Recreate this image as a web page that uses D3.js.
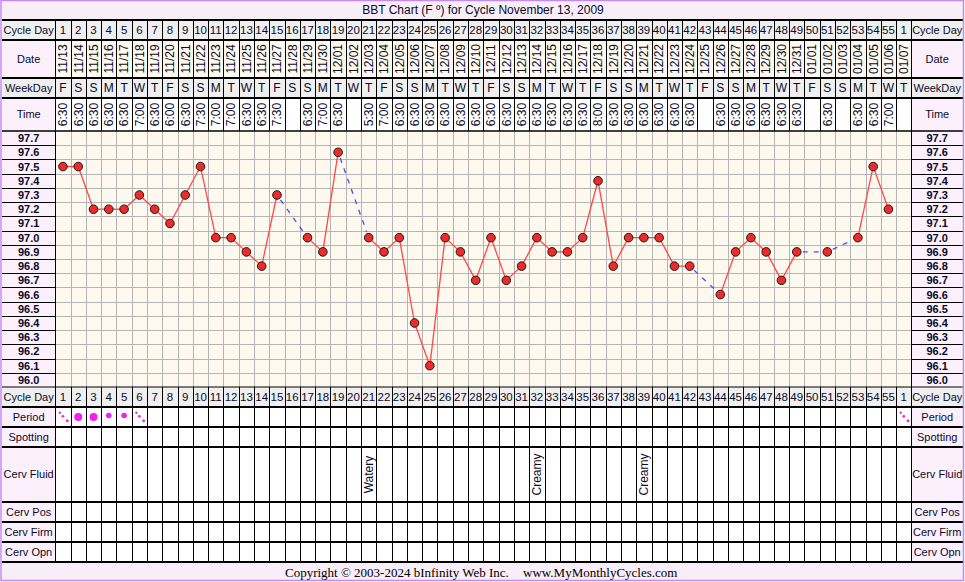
<!DOCTYPE html>
<html><head><meta charset="utf-8">
<script src="https://cdn.jsdelivr.net/npm/d3@7/dist/d3.min.js"></script>
<style>
body{margin:0;background:#fff}
svg{display:block}
text{font-family:Arial,"Liberation Sans",sans-serif;fill:#0a0a28}
</style>
</head><body>
<svg id="c" width="965" height="582"></svg>
<script>
// ---------- DATA ----------
const title = "BBT Chart (F \u00BA) for Cycle November 13, 2009";
const cycleDays = [1,2,3,4,5,6,7,8,9,10,11,12,13,14,15,16,17,18,19,20,21,22,23,24,25,26,27,28,29,30,31,32,33,34,35,36,37,38,39,40,41,42,43,44,45,46,47,48,49,50,51,52,53,54,55,1];
const dates = ["11/13","11/14","11/15","11/16","11/17","11/18","11/19","11/20","11/21","11/22","11/23","11/24","11/25","11/26","11/27","11/28","11/29","11/30","12/01","12/02","12/03","12/04","12/05","12/06","12/07","12/08","12/09","12/10","12/11","12/12","12/13","12/14","12/15","12/16","12/17","12/18","12/19","12/20","12/21","12/22","12/23","12/24","12/25","12/26","12/27","12/28","12/29","12/30","12/31","01/01","01/02","01/03","01/04","01/05","01/06","01/07"];
const weekdays = ["F","S","S","M","T","W","T","F","S","S","M","T","W","T","F","S","S","M","T","W","T","F","S","S","M","T","W","T","F","S","S","M","T","W","T","F","S","S","M","T","W","T","F","S","S","M","T","W","T","F","S","S","M","T","W","T"];
const times = ["6:30","6:30","6:30","6:30","6:30","7:00","6:30","6:00","6:30","7:30","7:00","7:00","6:30","6:30","7:30","","6:30","7:00","6:30","","5:30","7:00","6:30","6:30","6:30","6:30","6:30","6:30","6:30","6:30","6:30","6:30","6:30","6:30","6:30","8:00","6:30","6:30","6:30","6:30","6:30","6:30","","6:30","6:30","6:30","6:30","6:30","6:30","","6:30","","6:30","6:30","7:00",""];
const temps = [97.5,97.5,97.2,97.2,97.2,97.3,97.2,97.1,97.3,97.5,97.0,97.0,96.9,96.8,97.3,null,97.0,96.9,97.6,null,97.0,96.9,97.0,96.4,96.1,97.0,96.9,96.7,97.0,96.7,96.8,97.0,96.9,96.9,97.0,97.4,96.8,97.0,97.0,97.0,96.8,96.8,null,96.6,96.9,97.0,96.9,96.7,96.9,null,96.9,null,97.0,97.5,97.2,null];
const tempTicks = ["97.7","97.6","97.5","97.4","97.3","97.2","97.1","97.0","96.9","96.8","96.7","96.6","96.5","96.4","96.3","96.2","96.1","96.0"];
// period: H = heavy, M = medium, S = spotting dots
const period = ["S","H","H","M","M","S",null,null,null,null,null,null,null,null,null,null,null,null,null,null,null,null,null,null,null,null,null,null,null,null,null,null,null,null,null,null,null,null,null,null,null,null,null,null,null,null,null,null,null,null,null,null,null,null,null,"S"];
const cervFluid = {21:"Watery",32:"Creamy",39:"Creamy"};
const bottomLabels = ["Cycle Day","Period","Spotting","Cerv Fluid","Cerv Pos","Cerv Firm","Cerv Opn"];
const footerLeft = "Copyright \u00A9 2003-2024 bInfinity Web Inc.";
const footerRight = "www.MyMonthlyCycles.com";

// ---------- LAYOUT ----------
const svg = d3.select("#c");
const L0 = 2, L1 = 55.3, R0 = 911.4, R1 = 963;
const cols = d3.range(cycleDays.length);
const x = d3.scaleBand().domain(cols).range([L1, R0]).padding(0);
const bw = x.bandwidth();
const cx = i => x(i) + bw/2;

const rows = {
  title:[0,20], cd:[20,40], date:[40,78], wd:[78,98], time:[98,131],
  chart:[131,387], cd2:[387,407], period:[407,427], spot:[427,447],
  fluid:[447,502], pos:[502,522], firm:[522,542], opn:[542,562], foot:[562,581]
};
const yBand = d3.scaleBand().domain(tempTicks).range(rows.chart).padding(0);
const y = d3.scaleLinear().domain([97.75, 95.95]).range(rows.chart);

const PINK = "#fcf0fc", GRAY = "#efefef", CREAM = "#fdf9ee", PURPLE = "#c58af0";

function rect(x0,y0,w,h,fill){ svg.append("rect").attr("x",x0).attr("y",y0).attr("width",w).attr("height",h).attr("fill",fill); }
function hline(yv,x0,x1,color,w){ svg.append("line").attr("x1",x0).attr("x2",x1).attr("y1",yv).attr("y2",yv).attr("stroke",color).attr("stroke-width",w); }
function vline(xv,y0,y1,color,w){ svg.append("line").attr("x1",xv).attr("x2",xv).attr("y1",y0).attr("y2",y1).attr("stroke",color).attr("stroke-width",w); }

// backgrounds
rect(0,0,965,582,"#fff");
rect(L0,0,R1-L0,20,"#f8eef8");
rect(L0,rows.foot[0],R1-L0,rows.foot[1]-rows.foot[0],"#f8eef8");
const rowFill = {cd:GRAY,date:CREAM,wd:GRAY,time:"#fff",chart:CREAM,cd2:GRAY};
Object.entries(rowFill).forEach(([k,f])=>{
  rect(L1,rows[k][0],R0-L1,rows[k][1]-rows[k][0],f);
});
// label cells
["cd","date","wd","time","chart","cd2","period","spot","fluid","pos","firm","opn"].forEach(k=>{
  const f = (k==="cd"||k==="cd2"||k==="wd") ? GRAY : PINK;
  rect(L0,rows[k][0],L1-L0,rows[k][1]-rows[k][0],f);
  rect(R0,rows[k][0],R1-R0,rows[k][1]-rows[k][0],f);
});

// chart grid
const sx = v => Math.round(v)+0.5;
tempTicks.forEach((t,i)=>{
  if(i===0) return;
  const yy = sx(yBand(t));
  hline(yy,L1,R0,"#b5b5b5",1);
  hline(yy,L0,L1,"#000",1);
  hline(yy,R0,R1,"#000",1);
});
cols.forEach(i=>{ if(i>0) vline(sx(x(i)),rows.chart[0],rows.chart[1],"#b5b5b5",1); });

// header & bottom vertical lines
cols.forEach(i=>{
  if(i===0) return;
  vline(sx(x(i)),rows.cd[0],rows.time[1],"#000",1);
  vline(sx(x(i)),rows.cd2[0],rows.opn[1],"#000",1);
});
[L1,R0].forEach(v=>vline(sx(v),rows.cd[0],rows.opn[1],"#000",1));

// horizontal borders
[rows.cd[0],rows.cd[1],rows.date[1],rows.wd[1]].forEach(v=>hline(v,L0,R1,"#000",2));
hline(rows.chart[0],L0,R1,"#000",1.5);
hline(rows.cd2[0],L0,R1,"#000",1);
[rows.cd2[1],rows.period[1],rows.spot[1],rows.fluid[1],rows.pos[1],rows.firm[1],rows.opn[1]].forEach(v=>hline(v,L0,R1,"#000",2.2));

// outer purple frame
svg.append("rect").attr("x",1).attr("y",0.5).attr("width",962.5).attr("height",580).attr("fill","none").attr("stroke",PURPLE).attr("stroke-width",1.5);

// ---------- TEXT ----------
svg.append("text").attr("x",483).attr("y",14).attr("text-anchor","middle").style("font-size","12px").text(title);

function labelText(k, txt, side, opts={}){
  const xm = side==="L" ? (L0+L1)/2 : (R0+R1)/2;
  const ym = (rows[k][0]+rows[k][1])/2;
  svg.append("text").attr("x",xm).attr("y",ym).attr("dy","0.36em").attr("text-anchor","middle")
     .style("font-size",(opts.size||11)+"px").style("font-weight",opts.bold?"bold":"normal").text(txt);
}
[["cd","Cycle Day"],["date","Date"],["wd","WeekDay"],["time","Time"]].forEach(([k,t])=>{labelText(k,t,"L");labelText(k,t,"R");});
bottomLabels.forEach((t,i)=>{
  const k = ["cd2","period","spot","fluid","pos","firm","opn"][i];
  labelText(k,t,"L"); labelText(k,t,"R");
});
// temperature labels
tempTicks.forEach(t=>{
  [ (L0+L1)/2, (R0+R1)/2 ].forEach(xm=>{
    svg.append("text").attr("x",xm).attr("y",yBand(t)+yBand.bandwidth()/2).attr("dy","0.36em")
      .attr("text-anchor","middle").style("font-size","11px").style("font-weight","bold").text(t);
  });
});

// cycle days (top & bottom)
["cd","cd2"].forEach(k=>{
  svg.selectAll(null).data(cols).enter().append("text")
    .attr("x",i=>cx(i)).attr("y",(rows[k][0]+rows[k][1])/2).attr("dy","0.36em")
    .attr("text-anchor","middle").style("font-size","11.5px").text(i=>cycleDays[i]);
});
// weekdays
svg.selectAll(null).data(cols).enter().append("text")
  .attr("x",i=>cx(i)).attr("y",(rows.wd[0]+rows.wd[1])/2).attr("dy","0.36em")
  .attr("text-anchor","middle").style("font-size","12px").text(i=>weekdays[i]);
// dates rotated
svg.selectAll(null).data(cols).enter().append("text")
  .attr("transform",i=>`translate(${cx(i)},${(rows.date[0]+rows.date[1])/2}) rotate(-90)`)
  .attr("dy","0.36em").attr("text-anchor","middle").style("font-size","12px").text(i=>dates[i]);
// times rotated
svg.selectAll(null).data(cols.filter(i=>times[i])).enter().append("text")
  .attr("transform",i=>`translate(${cx(i)},${(rows.time[0]+rows.time[1])/2}) rotate(-90)`)
  .attr("dy","0.36em").attr("text-anchor","middle").style("font-size","12px").text(i=>times[i]);

// cervical fluid
Object.entries(cervFluid).forEach(([d,t])=>{
  const i = +d-1;
  svg.append("text").attr("transform",`translate(${cx(i)},${(rows.fluid[0]+rows.fluid[1])/2}) rotate(-90)`)
    .attr("dy","0.36em").attr("text-anchor","middle").style("font-size","12px").text(t);
});

// period markers
const pm = (rows.period[0]+rows.period[1])/2;
cols.forEach(i=>{
  const p = period[i];
  if(!p) return;
  if(p==="H") svg.append("circle").attr("cx",cx(i)).attr("cy",pm).attr("r",4).attr("fill","#ee22ee");
  else if(p==="M") svg.append("circle").attr("cx",cx(i)).attr("cy",pm-1.5).attr("r",2.8).attr("fill","#ee22ee");
  else [[-3,-4.3,1.2],[0,-0.7,1.4],[4.3,3.8,1.5]].forEach(([dx,dy,r])=>
     svg.append("circle").attr("cx",cx(i)+dx).attr("cy",pm+dy).attr("r",r).attr("fill","#ee33cc"));
});

// ---------- TEMPERATURE LINE ----------
const pts = cols.filter(i=>temps[i]!=null).map(i=>({i,v:temps[i]}));
const g = svg.append("g");
for(let k=0;k<pts.length-1;k++){
  const a=pts[k], b=pts[k+1];
  const x1=cx(a.i), y1=y(a.v), x2=cx(b.i), y2=y(b.v);
  if(b.i===a.i+1){
    g.append("line").attr("x1",x1).attr("y1",y1).attr("x2",x2).attr("y2",y2)
      .attr("stroke","#ff4848").attr("stroke-width",1.3);
  } else {
    const dx=x2-x1, dy=y2-y1, len=Math.hypot(dx,dy), off=6;
    g.append("line").attr("x1",x1+dx/len*off).attr("y1",y1+dy/len*off)
      .attr("x2",x2-dx/len*off).attr("y2",y2-dy/len*off)
      .attr("stroke","#4a4aff").attr("stroke-width",1.3).attr("stroke-dasharray","5,6");
  }
}
g.selectAll("circle").data(pts).enter().append("circle")
  .attr("cx",d=>cx(d.i)).attr("cy",d=>y(d.v)).attr("r",4.3)
  .attr("fill","#ee2a2a").attr("stroke","#1a1a1a").attr("stroke-width",1);

// ---------- FOOTER ----------
svg.append("text").attr("x",285).attr("y",577).style("font-family","'Liberation Serif','Times New Roman',serif")
  .style("font-size","13px").style("fill","#000").text(footerLeft);
svg.append("text").attr("x",523).attr("y",577).style("font-family","'Liberation Serif','Times New Roman',serif")
  .style("font-size","13px").style("fill","#000").text(footerRight);
</script>
</body></html>
